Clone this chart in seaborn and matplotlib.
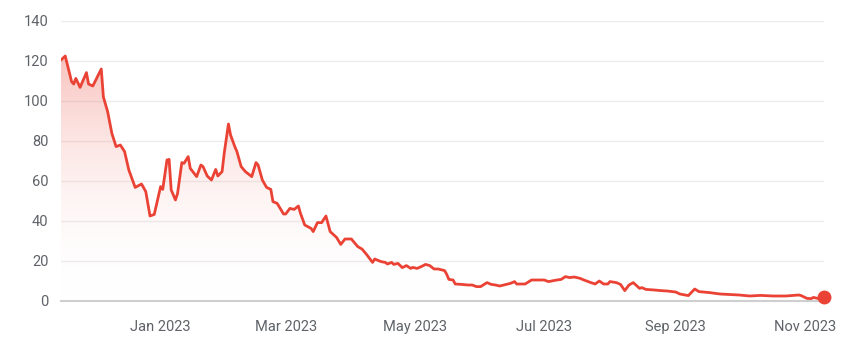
import numpy as np
import pandas as pd
import matplotlib
matplotlib.use("Agg")
import matplotlib.pyplot as plt
import matplotlib.dates as mdates
from matplotlib.colors import LinearSegmentedColormap
import seaborn as sns

dates = [
    "2022-11-15", "2022-11-17", "2022-11-20", "2022-11-21", "2022-11-22", "2022-11-24",
    "2022-11-27", "2022-11-28", "2022-11-30", "2022-12-04", "2022-12-05", "2022-12-07",
    "2022-12-09", "2022-12-11", "2022-12-13", "2022-12-15", "2022-12-17", "2022-12-20",
    "2022-12-23", "2022-12-25", "2022-12-27", "2022-12-29", "2023-01-01", "2023-01-02",
    "2023-01-04", "2023-01-05", "2023-01-06", "2023-01-08", "2023-01-09", "2023-01-11",
    "2023-01-12", "2023-01-14", "2023-01-15", "2023-01-18", "2023-01-20", "2023-01-21",
    "2023-01-23", "2023-01-25", "2023-01-27", "2023-01-28", "2023-01-30", "2023-01-31",
    "2023-02-02", "2023-02-03", "2023-02-05", "2023-02-06", "2023-02-08", "2023-02-10",
    "2023-02-13", "2023-02-15", "2023-02-16", "2023-02-18", "2023-02-20", "2023-02-22",
    "2023-02-23", "2023-02-25", "2023-02-28", "2023-03-01", "2023-03-03", "2023-03-05",
    "2023-03-07", "2023-03-08", "2023-03-10", "2023-03-13", "2023-03-14", "2023-03-16",
    "2023-03-18", "2023-03-20", "2023-03-22", "2023-03-25", "2023-03-27", "2023-03-29",
    "2023-04-01", "2023-04-04", "2023-04-06", "2023-04-08", "2023-04-11", "2023-04-12",
    "2023-04-15", "2023-04-17", "2023-04-18", "2023-04-20", "2023-04-21", "2023-04-23",
    "2023-04-25", "2023-04-27", "2023-04-29", "2023-04-30", "2023-05-02", "2023-05-04",
    "2023-05-06", "2023-05-08", "2023-05-10", "2023-05-12", "2023-05-15", "2023-05-16",
    "2023-05-17", "2023-05-19", "2023-05-20", "2023-05-23", "2023-05-26", "2023-05-28",
    "2023-05-30", "2023-06-01", "2023-06-04", "2023-06-06", "2023-06-08", "2023-06-10",
    "2023-06-13", "2023-06-15", "2023-06-17", "2023-06-18", "2023-06-22", "2023-06-25",
    "2023-07-01", "2023-07-03", "2023-07-07", "2023-07-09", "2023-07-11", "2023-07-13",
    "2023-07-15", "2023-07-16", "2023-07-18", "2023-07-19", "2023-07-23", "2023-07-25",
    "2023-07-27", "2023-07-29", "2023-07-31", "2023-08-01", "2023-08-04", "2023-08-06",
    "2023-08-08", "2023-08-10", "2023-08-12", "2023-08-15", "2023-08-16", "2023-08-18",
    "2023-08-22", "2023-08-25", "2023-08-28", "2023-09-01", "2023-09-03", "2023-09-07",
    "2023-09-08", "2023-09-10", "2023-09-12", "2023-09-17", "2023-09-22", "2023-09-26",
    "2023-10-01", "2023-10-06", "2023-10-11", "2023-10-17", "2023-10-23", "2023-10-29",
    "2023-10-30", "2023-11-02", "2023-11-04", "2023-11-05", "2023-11-07", "2023-11-10",
]
values = [
    120.5, 122.5, 109.7, 108.5, 111.3, 106.8,
    114.2, 108.5, 107.5, 116.0, 102.0, 94.7,
    83.8, 77.2, 78.0, 74.7, 65.5, 56.8,
    58.5, 54.7, 42.5, 43.3, 57.2, 55.8,
    70.5, 70.8, 55.5, 50.5, 53.8, 69.2,
    68.8, 72.2, 66.3, 62.2, 68.0, 67.2,
    62.5, 60.5, 65.8, 62.5, 64.7, 73.8,
    88.5, 83.0, 77.2, 74.7, 67.2, 64.7,
    62.2, 69.2, 68.0, 60.5, 56.8, 55.8,
    49.7, 48.8, 43.5, 43.5, 46.3, 45.8,
    47.5, 43.8, 38.0, 36.3, 34.7, 39.2,
    39.2, 42.5, 34.7, 31.8, 28.3, 31.0,
    31.0, 27.2, 26.0, 23.5, 19.3, 21.0,
    19.7, 19.3, 18.5, 19.3, 18.3, 18.8,
    16.7, 17.7, 16.3, 16.8, 16.3, 17.2,
    18.3, 17.7, 16.0, 16.0, 15.2, 13.3,
    10.8, 10.5, 8.5, 8.3, 8.0, 8.0,
    7.2, 7.2, 9.2, 8.3, 8.0, 7.5,
    8.3, 8.8, 9.7, 8.5, 8.5, 10.5,
    10.5, 9.7, 10.5, 10.8, 12.2, 11.7,
    12.0, 11.8, 11.3, 10.8, 9.2, 8.5,
    10.0, 8.5, 8.5, 9.7, 9.2, 8.3,
    5.2, 8.0, 9.2, 6.3, 6.7, 5.8,
    5.5, 5.2, 5.0, 4.5, 3.5, 2.7,
    3.8, 6.0, 4.7, 4.2, 3.5, 3.3,
    3.0, 2.5, 2.8, 2.5, 2.5, 3.0,
    2.8, 1.3, 1.2, 1.8, 1.3, 1.8,
]
tick_dates = ["2023-01-01", "2023-03-01", "2023-05-01", "2023-07-01", "2023-09-01", "2023-11-01"]
tick_labels = ["Jan 2023", "Mar 2023", "May 2023", "Jul 2023", "Sep 2023", "Nov 2023"]
y_ticks = [0, 20, 40, 60, 80, 100, 120, 140]

RED = "#ea4335"
TEXT = "#5f6368"

sns.set_theme(style="white")
plt.rcParams["font.family"] = ["Roboto", "DejaVu Sans"]

df = pd.DataFrame({"date": pd.to_datetime(dates), "value": values})

fig = plt.figure(figsize=(8.62, 3.44), dpi=100)
ax = fig.add_axes([61 / 862, 43 / 344, (824 - 61) / 862, 280 / 344])

# gradient fill under the line
xnum = mdates.date2num(df["date"])
poly = ax.fill_between(df["date"], df["value"], 0, color="none", lw=0)
cmap = LinearSegmentedColormap.from_list("g", [(1, 1, 1, 0), (234 / 255, 67 / 255, 53 / 255, 0.32)])
grad = np.linspace(0, 1, 256).reshape(-1, 1)
ymax = max(values)
im = ax.imshow(grad, cmap=cmap, aspect="auto", origin="lower",
               extent=[xnum.min(), xnum.max(), 0, ymax], zorder=1)
path = poly.get_paths()[0]
im.set_clip_path(path, transform=ax.transData)

sns.lineplot(data=df, x="date", y="value", ax=ax, color=RED, linewidth=2.0, zorder=3,
             solid_joinstyle="round", solid_capstyle="round")
ax.plot(df["date"].iloc[-1], df["value"].iloc[-1], "o", color=RED, markersize=9,
        zorder=5, clip_on=False)

ax.set_xlim(xnum.min(), xnum.max())
ax.set_ylim(0, 140)
ax.set_yticks(y_ticks)
ax.set_yticklabels([str(v) for v in y_ticks])
ax.set_xticks(pd.to_datetime(tick_dates))
ax.set_xticklabels(tick_labels)
ax.set_xlabel("")
ax.set_ylabel("")

ax.grid(axis="y", color="#ececec", linewidth=1.0)
ax.grid(axis="x", visible=False)
for s in ["top", "right", "left"]:
    ax.spines[s].set_visible(False)
ax.spines["bottom"].set_color("#cfcfcf")
ax.spines["bottom"].set_linewidth(1.5)
ax.spines["bottom"].set_zorder(2)

ax.tick_params(axis="y", length=0, pad=9, labelsize=10.5, labelcolor=TEXT)
ax.tick_params(axis="x", length=5, width=1.6, color="#5f6368", direction="out",
               pad=9, labelsize=10.5, labelcolor=TEXT)

fig.savefig("out.png", dpi=100, facecolor="white")
